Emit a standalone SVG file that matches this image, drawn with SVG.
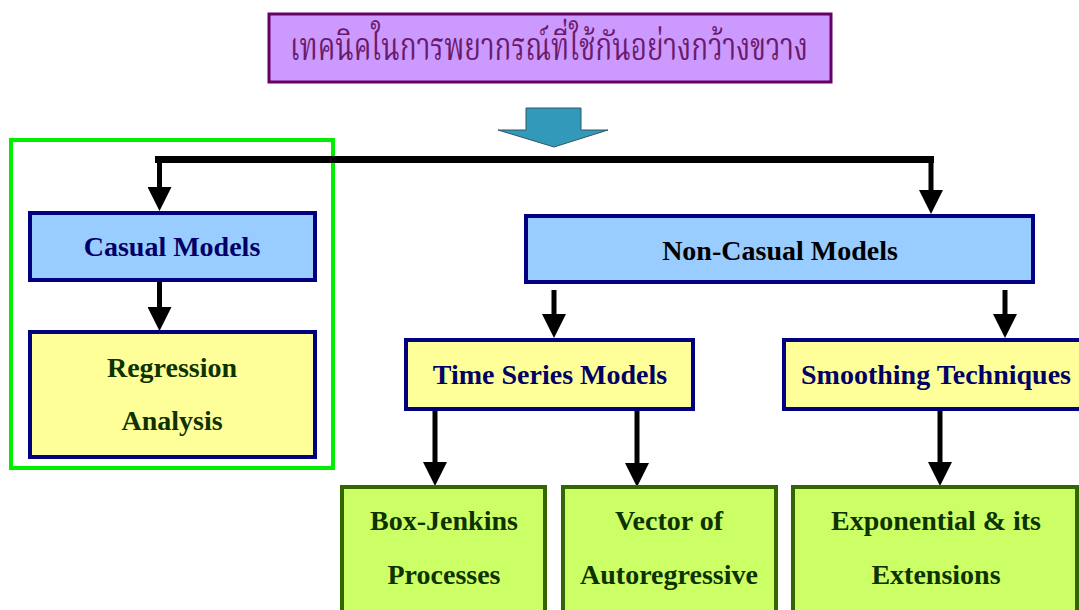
<svg xmlns="http://www.w3.org/2000/svg" width="1079" height="610" viewBox="0 0 1079 610">
<defs>
<style>
.t{font-family:"Liberation Serif","Times New Roman",serif;font-weight:bold;font-size:28px;text-anchor:middle}
.navy{fill:#000066}
.dg{fill:#0d3300}
.blue{fill:#99ccff;stroke:#000080;stroke-width:4}
.yel{fill:#ffff99;stroke:#000080;stroke-width:4}
.grn{fill:#ccff66;stroke:#336600;stroke-width:4}
.ln{stroke:#000;stroke-width:5;fill:none;marker-end:url(#ah)}
</style>
<marker id="ah" viewBox="0 0 24 24" refX="0" refY="12" markerWidth="24" markerHeight="24" markerUnits="userSpaceOnUse" orient="auto">
<path d="M0,0 L24,12 L0,24 z" fill="#000"/>
</marker>
</defs>
<rect width="1079" height="610" fill="#fff"/>
<g id="title">
<rect x="269" y="14" width="562" height="68" fill="#cc99ff" stroke="#660066" stroke-width="3"/>
<text x="549" y="60" textLength="518" lengthAdjust="spacingAndGlyphs" style="font-family:'Noto Serif Thai','Noto Sans Thai','Angsana New','Loma','Garuda','Noto Sans',sans-serif;font-size:39px;fill:#6b1a6b;text-anchor:middle">เทคนิคในการพยากรณ์ที่ใช้กันอย่างกว้างขวาง</text>
</g>
<g id="big-arrow">
<polygon points="526,108 581,108 581,130 608,130 554,147 498,130 526,130" fill="#3399bb" stroke="#335566" stroke-width="1"/>
</g>
<g id="highlight">
<rect x="11" y="140" width="322" height="328" fill="none" stroke="#00ee00" stroke-width="4"/>
</g>
<g id="connectors">
<rect x="155" y="156" width="779" height="7" fill="#000"/>
<line class="ln" x1="159.5" y1="157" x2="159.5" y2="187"/>
<line class="ln" x1="931" y1="157" x2="931" y2="190"/>
<line class="ln" x1="159.5" y1="281" x2="159.5" y2="307"/>
<line class="ln" x1="554" y1="290" x2="554" y2="314"/>
<line class="ln" x1="1005" y1="290" x2="1005" y2="314"/>
<line class="ln" x1="435" y1="410" x2="435" y2="462"/>
<line class="ln" x1="637" y1="410" x2="637" y2="463"/>
<line class="ln" x1="940" y1="410" x2="940" y2="462"/>
</g>
<g id="casual">
<rect class="blue" x="30" y="213" width="285" height="67"/>
<text class="t navy" x="172" y="256">Casual Models</text>
</g>
<g id="regression">
<rect class="yel" x="30" y="332" width="285" height="125"/>
<text class="t dg" x="172" y="377">Regression</text>
<text class="t dg" x="172" y="430">Analysis</text>
</g>
<g id="noncasual">
<rect class="blue" x="526" y="216" width="507" height="66"/>
<text class="t" x="780" y="260" fill="#000">Non-Casual Models</text>
</g>
<g id="timeseries">
<rect class="yel" x="406" y="340" width="287" height="69"/>
<text class="t navy" x="550" y="384">Time Series Models</text>
</g>
<g id="smoothing">
<rect class="yel" x="784" y="340" width="298" height="69"/>
<text class="t navy" x="936" y="384">Smoothing Techniques</text>
</g>
<g id="boxjenkins">
<rect class="grn" x="342" y="487" width="203" height="130"/>
<text class="t dg" x="444" y="530">Box-Jenkins</text>
<text class="t dg" x="444" y="584">Processes</text>
</g>
<g id="vector">
<rect class="grn" x="563" y="487" width="213" height="130"/>
<text class="t dg" x="669" y="530">Vector of</text>
<text class="t dg" x="669" y="584">Autoregressive</text>
</g>
<g id="exponential">
<rect class="grn" x="793" y="487" width="284" height="130"/>
<text class="t dg" x="936" y="530">Exponential &amp; its</text>
<text class="t dg" x="936" y="584">Extensions</text>
</g>
</svg>
